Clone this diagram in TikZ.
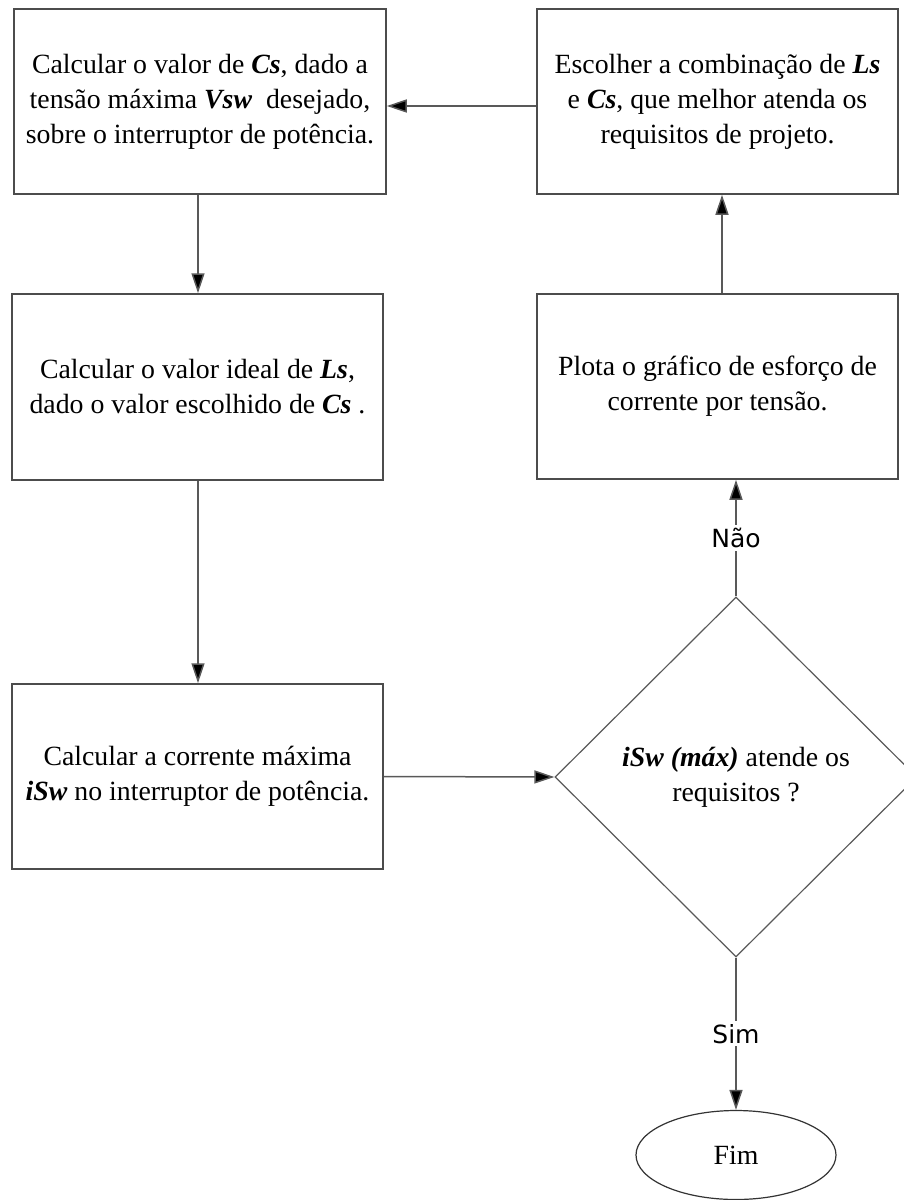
\documentclass[tikz,border=0pt]{standalone}
\usepackage{fontspec}
\setmainfont{Liberation Serif}
\newfontfamily\labelfont{DejaVu Sans}
\usetikzlibrary{shapes.geometric,arrows.meta}
\begin{document}
\begin{tikzpicture}[x=1pt,y=-1pt,
  line width=1.5pt,
  edge/.style={draw=black!65},
  flow/.style={edge,-{Triangle[length=20pt,width=13pt,fill=black]}},
  stepbox/.style={draw=black!70,rectangle,inner sep=0pt,align=center,
    font=\fontsize{27.8}{35}\selectfont},
  txt/.style={align=center,font=\fontsize{27.8}{35}\selectfont},
  branch/.style={fill=white,inner sep=3pt,font=\labelfont\fontsize{25}{28}\selectfont}]
\newcommand{\sym}[1]{\textbf{\textit{#1}}}
\useasboundingbox (0,0) rectangle (904,1200);

% process boxes
\node[stepbox,minimum width=372pt,minimum height=185pt] (cs) at (200,101.5)
  {Calcular o valor de \sym{Cs}, dado a\\ tensão máxima \sym{Vsw}\ \ desejado,\\ sobre o interruptor de potência.};
\node[stepbox,minimum width=371pt,minimum height=186pt] (ls) at (197.5,387)
  {Calcular o valor ideal de \sym{Ls},\\ dado o valor escolhido de \sym{Cs} .};
\node[stepbox,minimum width=371pt,minimum height=185pt] (isw) at (197.5,776.5)
  {Calcular a corrente máxima\\ \sym{iSw} no interruptor de potência.};
\node[stepbox,minimum width=361pt,minimum height=185pt] (pick) at (717.5,101.5)
  {Escolher a combinação de \sym{Ls}\\ e \sym{Cs}, que melhor atenda os\\ requisitos de projeto.};
\node[stepbox,minimum width=361pt,minimum height=185pt] (plot) at (717.5,386.5)
  {Plota o gráfico de esforço de\\ corrente por tensão.};

% decision and terminal
\node[draw=black!65,line width=1.2pt,diamond,minimum width=362pt,minimum height=360pt,inner sep=0pt] (dec) at (736,777) {};
\node[txt] (dectext) at (736,777) {\sym{iSw (máx)} atende os\\ requisitos ?};
\node[draw=black!80,line width=1.2pt,ellipse,minimum width=200pt,minimum height=89pt,inner sep=0pt,
  font=\fontsize{27.8}{30}\selectfont] (fim) at (736,1155) {Fim};

\coordinate (up) at (722,0);
\coordinate (back) at (0,106);

% connectors
\draw[flow] (cs.south -| 198,0) -- (ls.north -| 198,0);
\draw[flow] (ls.south -| 198,0) -- (isw.north -| 198,0);
\draw[flow] (isw.east) -- (dec.west);
\draw[flow] (dec.north) -- node[branch] (nao) {Não} (dec.north |- plot.south);
\draw[flow] (plot.north -| up) -- (pick.south -| up);
\draw[flow] (pick.west |- back) -- (cs.east |- back);
\draw[flow] (dec.south) -- node[branch] (sim) {Sim} (fim.north);
\end{tikzpicture}
\end{document}
